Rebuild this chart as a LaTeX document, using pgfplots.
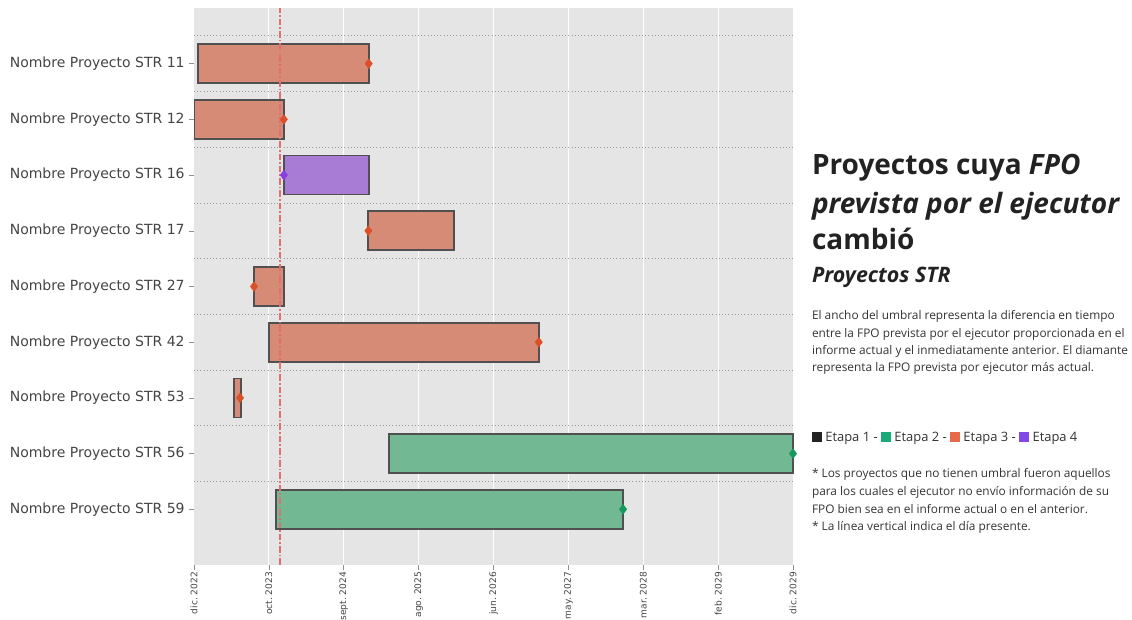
\documentclass[border=0pt]{standalone}
\usepackage{pgfplots}
\pgfplotsset{compat=1.18}
\usepackage{fontspec}
\setmainfont{Open Sans}
\newfontfamily\dejavu{DejaVu Sans}
\definecolor{bggray}{HTML}{E5E5E5}
\definecolor{tickgray}{HTML}{444444}
\definecolor{orfill}{HTML}{D68B76}
\definecolor{grfill}{HTML}{72B892}
\definecolor{pufill}{HTML}{A87BD4}
\definecolor{edgec}{HTML}{505050}
\definecolor{ordia}{HTML}{DA5028}
\definecolor{grdia}{HTML}{16995C}
\definecolor{pudia}{HTML}{8A3EE0}
\definecolor{redline}{HTML}{E07070}
\definecolor{etapaA}{HTML}{222222}
\definecolor{etapaB}{HTML}{19AA78}
\definecolor{etapaC}{HTML}{E8694A}
\definecolor{etapaD}{HTML}{8147E8}
\definecolor{titlec}{HTML}{222222}
\definecolor{bodyc}{HTML}{333333}
\frenchspacing
\begin{document}
\begin{tikzpicture}
\path[use as bounding box] (0,0) rectangle (849pt,465pt);
\begin{axis}[
  at={(145.5pt,41.25pt)}, anchor=south west,
  scale only axis, width=449.25pt, height=417.75pt,
  xmin=0, xmax=84, ymin=-1, ymax=9,
  axis background/.style={fill=bggray},
  axis line style={draw=none},
  clip=false,
  xtick pos=bottom, ytick pos=left,
  xtick={0,10.5,21,31.5,42,52.5,63,73.5,84},
  xticklabels={dic. 2022, oct. 2023, sept. 2024, ago. 2025, jun. 2026, may. 2027, mar. 2028, feb. 2029, dic. 2029},
  xticklabel style={rotate=90, anchor=east, inner sep=1.5pt, font=\dejavu\fontsize{6.8}{7}\selectfont, text=tickgray},
  ytick={0,1,2,3,4,5,6,7,8},
  yticklabels={Nombre Proyecto STR 59, Nombre Proyecto STR 56, Nombre Proyecto STR 53, Nombre Proyecto STR 42, Nombre Proyecto STR 27, Nombre Proyecto STR 17, Nombre Proyecto STR 16, Nombre Proyecto STR 12, Nombre Proyecto STR 11},
  yticklabel style={font=\dejavu\fontsize{10.5}{12}\selectfont, text=tickgray},
  minor ytick={0.5,1.5,2.5,3.5,4.5,5.5,6.5,7.5,8.5},
  tick align=outside,
  major tick length=3.5pt, minor tick length=0pt,
  major tick style={draw=tickgray!60, line width=0.4pt},
  xmajorgrids, ymajorgrids=false, yminorgrids,
  major grid style={white, line width=0.75pt},
  minor grid style={gray!80, dotted, line width=0.6pt},
]
% bars: rows y = 0 (STR 59) ... 8 (STR 11)
\addplot[fill=orfill, draw=edgec, line width=1.3pt] coordinates {(0.56,7.65) (24.5,7.65) (24.5,8.35) (0.56,8.35)} -- cycle;
\addplot[fill=orfill, draw=edgec, line width=1.3pt] coordinates {(0.08,6.65) (12.6,6.65) (12.6,7.35) (0.08,7.35)} -- cycle;
\addplot[fill=pufill, draw=edgec, line width=1.3pt] coordinates {(12.6,5.65) (24.5,5.65) (24.5,6.35) (12.6,6.35)} -- cycle;
\addplot[fill=orfill, draw=edgec, line width=1.3pt] coordinates {(24.45,4.65) (36.47,4.65) (36.47,5.35) (24.45,5.35)} -- cycle;
\addplot[fill=orfill, draw=edgec, line width=1.3pt] coordinates {(8.42,3.65) (12.62,3.65) (12.62,4.35) (8.42,4.35)} -- cycle;
\addplot[fill=orfill, draw=edgec, line width=1.3pt] coordinates {(10.52,2.65) (48.35,2.65) (48.35,3.35) (10.52,3.35)} -- cycle;
\addplot[fill=orfill, draw=edgec, line width=1.3pt] coordinates {(5.61,1.65) (6.59,1.65) (6.59,2.35) (5.61,2.35)} -- cycle;
\addplot[fill=grfill, draw=edgec, line width=1.3pt] coordinates {(27.35,0.65) (84,0.65) (84,1.35) (27.35,1.35)} -- cycle;
\addplot[fill=grfill, draw=edgec, line width=1.3pt] coordinates {(11.5,-0.35) (60.2,-0.35) (60.2,0.35) (11.5,0.35)} -- cycle;
% present day
\addplot[redline, line width=1.1pt, dash pattern=on 5pt off 1.5pt on 1.2pt off 1.5pt] coordinates {(12.06,-1) (12.06,9)};
% diamonds
\addplot[only marks, mark=diamond*, mark size=3.6pt, color=ordia] coordinates {(24.5,8) (12.6,7) (24.45,5) (8.42,4) (48.35,3) (6.45,2)};
\addplot[only marks, mark=diamond*, mark size=3.6pt, color=pudia] coordinates {(12.6,6)};
\addplot[only marks, mark=diamond*, mark size=3.6pt, color=grdia] coordinates {(84,1) (60.17,0)};
\end{axis}
% right panel
\begin{scope}[every node/.style={anchor=base west, inner sep=0pt, outer sep=0pt}]
\node[text=titlec, font=\fontsize{21}{24}\selectfont\bfseries] at (609pt,333.75pt) {Proyectos cuya \textit{FPO}};
\node[text=titlec, font=\fontsize{21}{24}\selectfont\bfseries\itshape] at (609pt,304.5pt) {prevista por el ejecutor};
\node[text=titlec, font=\fontsize{21}{24}\selectfont\bfseries] at (609pt,277.5pt) {cambió};
\node[text=titlec, font=\fontsize{16}{18}\selectfont\bfseries\itshape] at (609pt,252.75pt) {Proyectos STR};
\node[text=bodyc, font=\fontsize{8.9}{10}\selectfont] at (609pt,225pt) {El ancho del umbral representa la diferencia en tiempo};
\node[text=bodyc, font=\fontsize{8.9}{10}\selectfont] at (609pt,211.5pt) {entre la FPO prevista por el ejecutor proporcionada en el};
\node[text=bodyc, font=\fontsize{8.9}{10}\selectfont] at (609pt,198.75pt) {informe actual y el inmediatamente anterior. El diamante};
\node[text=bodyc, font=\fontsize{8.9}{10}\selectfont] at (609pt,186pt) {representa la FPO prevista por ejecutor más actual.};
\node[text=bodyc, font=\fontsize{9.7}{11}\selectfont] at (609pt,133.5pt) {\textcolor{etapaA}{\rule{7.5pt}{7.5pt}} Etapa 1 - \textcolor{etapaB}{\rule{7.5pt}{7.5pt}} Etapa 2 - \textcolor{etapaC}{\rule{7.5pt}{7.5pt}} Etapa 3 - \textcolor{etapaD}{\rule{7.5pt}{7.5pt}} Etapa 4};
\node[text=bodyc, font=\fontsize{8.9}{10}\selectfont] at (609pt,106.5pt) {* Los proyectos que no tienen umbral fueron aquellos};
\node[text=bodyc, font=\fontsize{8.9}{10}\selectfont] at (609pt,93pt) {para los cuales el ejecutor no envío información de su};
\node[text=bodyc, font=\fontsize{8.9}{10}\selectfont] at (609pt,79.5pt) {FPO bien sea en el informe actual o en el anterior.};
\node[text=bodyc, font=\fontsize{8.9}{10}\selectfont] at (609pt,66.75pt) {* La línea vertical indica el día presente.};
\end{scope}
\end{tikzpicture}
\end{document}
